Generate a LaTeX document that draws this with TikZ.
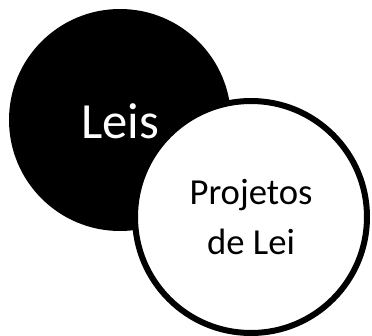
\documentclass[tikz,border=0pt]{standalone}
\usepackage{fontspec}
\setmainfont{Carlito}
\usepackage{tikz}
\tikzset{bigcirc/.style={circle,fill=black,text=white,minimum size=222*0.75pt,inner sep=0pt},
 smallcirc/.style={circle,draw=black,fill=white,line width=4.5pt,minimum size=232*0.75pt,inner sep=0pt,align=center},
 }

\begin{document}
\begin{tikzpicture}[x=0.75pt,y=-0.75pt]
        \useasboundingbox (0,0) rectangle (372,336);
        \node[bigcirc] (leis) at (120,120) {};
        \node[text=white,font=\fontsize{38}{46}\selectfont] (leistxt) at (120,121) {Leis};
        \node[smallcirc,font=\fontsize{27.5}{38}\selectfont] (proj) at (251,217) {Projetos\\de Lei};
    \end{tikzpicture}
\end{document}
